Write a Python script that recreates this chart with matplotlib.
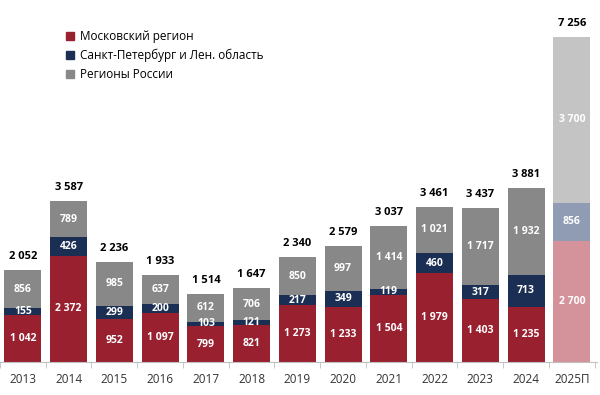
import matplotlib
matplotlib.use("Agg")
import matplotlib.pyplot as plt
from matplotlib.patches import Patch

plt.rcParams['font.family'] = ['Open Sans', 'DejaVu Sans']

years = ["2013", "2014", "2015", "2016", "2017", "2018", "2019", "2020",
         "2021", "2022", "2023", "2024", "2025П"]
moscow = [1042, 2372, 952, 1097, 799, 821, 1273, 1233, 1504, 1979, 1403, 1235, 2700]
spb = [155, 426, 299, 200, 103, 121, 217, 349, 119, 460, 317, 713, 856]
regions = [856, 789, 985, 637, 612, 706, 850, 997, 1414, 1021, 1717, 1932, 3700]
totals = [2052, 3587, 2236, 1933, 1514, 1647, 2340, 2579, 3037, 3461, 3437, 3881, 7256]
series_names = ["Московский регион", "Санкт-Петербург и Лен. область", "Регионы России"]

c_red, c_navy, c_gray = "#98202F", "#1B2E53", "#888888"
c_red_f, c_navy_f, c_gray_f = "#D4939B", "#8F9CB4", "#C4C4C4"

def fmt(v):
    return f"{v:,}".replace(",", " ")

fig = plt.figure(figsize=(6, 3.95), dpi=100)
ax = fig.add_axes([0.0, 0.0835, 0.995, 0.9165])

n = len(years)
x = list(range(n))
w = 0.81
for i in range(n):
    last = (i == n - 1)
    cols = (c_red_f, c_navy_f, c_gray_f) if last else (c_red, c_navy, c_gray)
    bottom = 0
    for val, col in zip((moscow[i], spb[i], regions[i]), cols):
        ax.bar(x[i], val, w, bottom=bottom, color=col, edgecolor='none')
        ax.text(x[i], bottom + val / 2, fmt(val), ha='center', va='center',
                color='white', fontsize=7.5, fontweight='bold')
        bottom += val
    ax.text(x[i], bottom + 180, fmt(totals[i]), ha='center', va='bottom',
            color='black', fontsize=8, fontweight='bold')

ax.set_xlim(-0.48, 12.55)
ax.set_ylim(0, 8082)
ax.set_xticks(x)
ax.set_xticklabels(years, fontsize=8.5, color='#333333')
ax.set_xticks([i - 0.5 for i in range(n + 1)], minor=True)
ax.tick_params(axis='x', which='major', length=0, pad=8)
ax.tick_params(axis='x', which='minor', length=4, color='#BFBFBF')
ax.set_yticks([])
for s in ('top', 'right', 'left'):
    ax.spines[s].set_visible(False)
ax.spines['bottom'].set_color('#BFBFBF')

handles = [Patch(color=c_red), Patch(color=c_navy), Patch(color=c_gray)]
ax.legend(handles, series_names, loc='upper left', bbox_to_anchor=(0.102, 0.93),
          frameon=False, fontsize=8.5, handlelength=0.7, handleheight=0.7,
          handletextpad=0.5, labelspacing=0.5, borderaxespad=0)

fig.savefig("out.png", dpi=100)
